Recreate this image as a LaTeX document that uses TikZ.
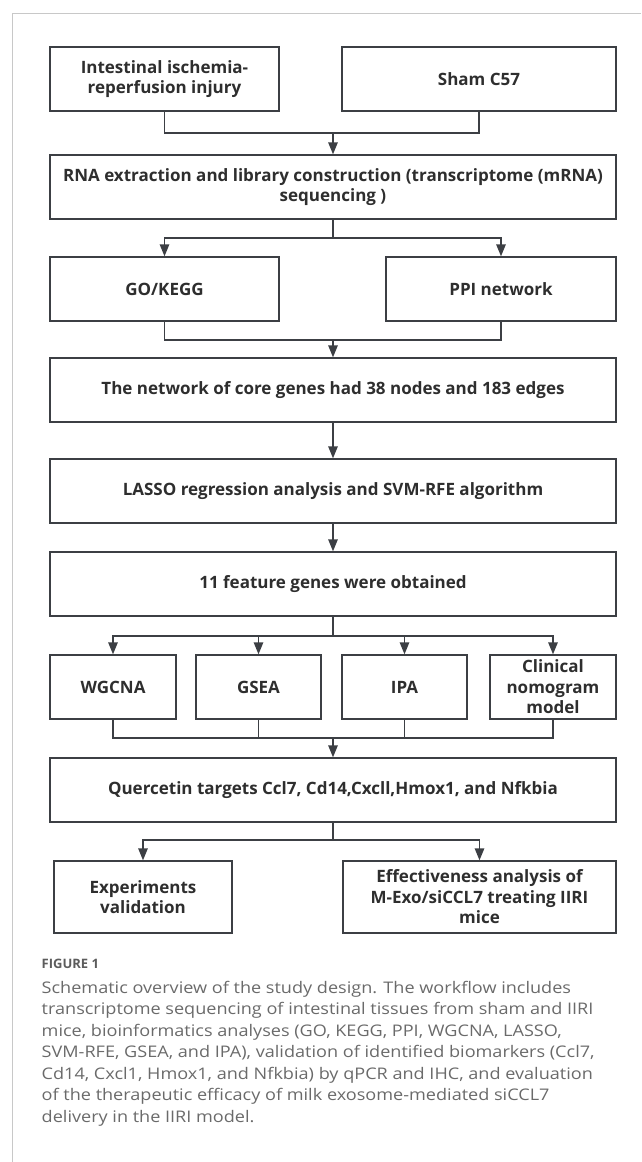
\documentclass[tikz,border=0pt]{standalone}
\usepackage{fontspec}
\setmainfont{Open Sans}
\newfontfamily\capfont[FakeStretch=1.13]{Open Sans}
\usetikzlibrary{arrows.meta}
\definecolor{boxline}{HTML}{3C3F44}
\definecolor{boxtext}{HTML}{2E2E2E}
\definecolor{framegray}{HTML}{C8C8C8}
\definecolor{capgray}{HTML}{6A6A6A}
\definecolor{labgray}{HTML}{5C5C5C}
\begin{document}
\begin{tikzpicture}[x=1pt,y=-1pt,
  stage/.style={draw=boxline, line width=1.4pt, fill=white, text=boxtext,
    font=\bfseries\fontsize{17}{20.5}\selectfont, align=center,
    minimum height=64pt, inner sep=2pt},
  wide/.style={stage, minimum width=566pt},
  link/.style={draw=boxline, line width=1.4pt},
  arr/.style={link, -{Triangle[length=12pt,width=9.5pt]}},
  capline/.style={anchor=base west, inner sep=0pt, text=capgray,
    font=\capfont\fontsize{16}{21.5}\selectfont}]
\useasboundingbox (0,0) rectangle (641,1162);
% light frame along the top and left edges
\draw[framegray, line width=0.9pt] (641,13) -- (12,13) -- (12,1162);

% boxes
\node[stage, minimum width=229pt] (ii) at (164.5,79) {Intestinal ischemia-\\reperfusion injury};
\node[stage, minimum width=274pt] (sham) at (479,79) {Sham C57};
\node[wide] (rna) at (333,187) {RNA extraction and library construction (transcriptome (mRNA)\\sequencing )};
\node[stage, minimum width=229pt] (go) at (164.5,289) {GO/KEGG};
\node[stage, minimum width=230pt] (ppi) at (501,289) {PPI network};
\node[wide] (net) at (333,390) {The network of core genes had 38 nodes and 183 edges};
\node[wide] (lasso) at (333,491) {LASSO regression analysis and SVM-RFE algorithm};
\node[wide] (feat) at (333,584) {11 feature genes were obtained};
\node[stage, minimum width=126pt] (wg) at (113,687) {WGCNA};
\node[stage, minimum width=125pt] (gsea) at (258.5,687) {GSEA};
\node[stage, minimum width=125pt] (ipa) at (404.5,687) {IPA};
\node[stage, minimum width=126pt] (clin) at (553,687) {Clinical\\nomogram\\model};
\node[wide] (quer) at (333,790) {Quercetin targets Ccl7, Cd14,Cxcll,Hmox1, and Nfkbia};
\node[stage, minimum width=178pt, minimum height=72pt] (exp) at (143,897) {Experiments\\validation};
\node[stage, minimum width=273pt, minimum height=72pt] (eff) at (479.5,897) {Effectiveness analysis of\\M-Exo/siCCL7 treating IIRI\\mice};

% junction points
\coordinate (j1) at (333,133);
\coordinate (j2) at (333,238);
\coordinate (j3) at (333,340);
\coordinate (j4) at (333,636);
\coordinate (j5) at (333,738);
\coordinate (j6) at (333,840);

% connectors
\draw[link] (ii.south) |- (j1);
\draw[link] (sham.south) |- (j1);
\draw[arr] (j1) -- (rna.north);
\draw[link] (rna.south) -- (j2);
\draw[arr] (j2) -| (go.north);
\draw[arr] (j2) -| (ppi.north);
\draw[link] (go.south) |- (j3);
\draw[link] (ppi.south) |- (j3);
\draw[arr] (j3) -- (net.north);
\draw[arr] (net.south) -- (lasso.north);
\draw[arr] (lasso.south) -- (feat.north);
\draw[link] (feat.south) -- (j4);
\draw[arr] (j4) -| (wg.north);
\draw[arr] (j4) -| (gsea.north);
\draw[arr] (j4) -| (ipa.north);
\draw[arr] (j4) -| (clin.north);
\draw[link] (wg.south) |- (j5);
\draw[link] (gsea.south) |- (j5);
\draw[link] (ipa.south) |- (j5);
\draw[link] (clin.south) |- (j5);
\draw[arr] (j5) -- (quer.north);
\draw[link] (quer.south) -- (j6);
\draw[arr] (j6) -| (exp.north);
\draw[arr] (j6) -| (eff.north);

% caption
\node[anchor=base west, inner sep=0pt, text=labgray,
  font=\bfseries\fontsize{13}{15}\selectfont] (figlabel) at (41.5,968) {FIGURE 1};
\node[capline] (cap1) at (41.5,993) {Schematic overview of the study design. The workflow includes};
\node[capline] (cap2) at (41.5,1014.5) {transcriptome sequencing of intestinal tissues from sham and IIRI};
\node[capline] (cap3) at (41.5,1036) {mice, bioinformatics analyses (GO, KEGG, PPI, WGCNA, LASSO,};
\node[capline] (cap4) at (41.5,1057.5) {SVM-RFE, GSEA, and IPA), validation of identified biomarkers (Ccl7,};
\node[capline] (cap5) at (41.5,1079) {Cd14, Cxcl1, Hmox1, and Nfkbia) by qPCR and IHC, and evaluation};
\node[capline] (cap6) at (41.5,1100.5) {of the therapeutic efficacy of milk exosome-mediated siCCL7};
\node[capline] (cap7) at (41.5,1122) {delivery in the IIRI model.};
\end{tikzpicture}
\end{document}
